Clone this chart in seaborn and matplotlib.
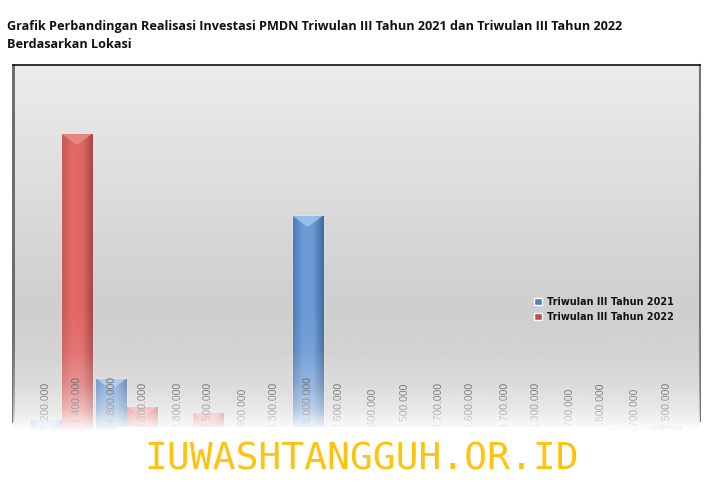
import numpy as np
import pandas as pd
import matplotlib
matplotlib.use("Agg")
import matplotlib.pyplot as plt
import seaborn as sns
from matplotlib.colors import LinearSegmentedColormap
from matplotlib.patches import Polygon, Rectangle

# nilai, nama lokasi tertutup watermark
lokasi = ["Lokasi 1", "Lokasi 2", "Lokasi 3", "Lokasi 4", "Lokasi 5",
          "Lokasi 6", "Lokasi 7", "Lokasi 8", "Lokasi 9", "Lokasi 10"]
triwulan_2021 = [37200000, 164800000, 12800000, 6900000, 668000000,
                 5600000, 10700000, 13700000, 3700000, 4700000]
triwulan_2022 = [921400000, 78300000, 58500000, 14300000, 12600000,
                 11500000, 12600000, 16300000, 11600000, 17500000]
nama_seri = ["Triwulan III Tahun 2021", "Triwulan III Tahun 2022"]
judul = ("Grafik Perbandingan Realisasi Investasi PMDN Triwulan III Tahun 2021 "
         "dan Triwulan III Tahun 2022\nBerdasarkan Lokasi")
watermark = "IUWASHTANGGUH.OR.ID"

df = pd.DataFrame({
    "lokasi": lokasi * 2,
    "nilai": triwulan_2021 + triwulan_2022,
    "periode": [nama_seri[0]] * 10 + [nama_seri[1]] * 10,
})

W, H = 726, 504
sns.set_theme(style="white")
fig = plt.figure(figsize=(W / 100, H / 100), dpi=100, facecolor="white")
# posisi axes dalam piksel gambar
top_px, bottom_px, left_px, right_px = 65, 432, 13, 700
ax = fig.add_axes([left_px / W, 1 - bottom_px / H, (right_px - left_px) / W, (bottom_px - top_px) / H])

warna = {nama_seri[0]: "#4f81bd", nama_seri[1]: "#c0504d"}
sns.barplot(data=df, x="lokasi", y="nilai", hue="periode", hue_order=nama_seri,
            palette=warna, width=0.95, gap=0.03, saturation=1, ax=ax, zorder=2)

xlim = (-0.74, 9.76)
ymax = 921400000 * (bottom_px - top_px) / 298
ax.set_xlim(xlim)
ax.set_ylim(0, ymax)

# latar abu-abu bergradasi
latar = LinearSegmentedColormap.from_list("latar", [(0, "#ececec"), (0.64, "#cfcfcf"), (1, "#cfcfcf")])
ax.imshow(np.linspace(0, 1, 256).reshape(-1, 1), cmap=latar, aspect="auto", extent=(0, 1, 0, 1),
          transform=ax.transAxes, origin="upper", zorder=0)

# gradasi dan bevel tiap batang
gradasi = {
    0: LinearSegmentedColormap.from_list("biru", ["#4a7db8", "#6c9bd6", "#6b9ad4", "#3e6a9f"]),
    1: LinearSegmentedColormap.from_list("merah", ["#c85a58", "#e36a66", "#df6763", "#a94644"]),
}
bevel = {0: "#a9c9f0", 1: "#ee8f8a"}
dy = 11 / (bottom_px - top_px) * ymax
for i, (container, nilai) in enumerate(zip(ax.containers, [triwulan_2021, triwulan_2022])):
    for patch, v in zip(container.patches, nilai):
        x0, w = patch.get_x(), patch.get_width()
        im = ax.imshow(np.linspace(0, 1, 64).reshape(1, -1), cmap=gradasi[i], aspect="auto",
                       extent=(x0, x0 + w, 0, v), zorder=3)
        im.set_clip_path(patch)
        tip = Polygon([(x0, v), (x0 + w, v), (x0 + w * 0.5, v - dy)], closed=True,
                      facecolor=bevel[i], alpha=0.75, edgecolor="none", zorder=3.5)
        ax.add_patch(tip)
        tip.set_clip_path(patch)
        teks = f"{v:,}".replace(",", ".")
        ax.annotate(teks, xy=(x0 + w / 2, 0), xytext=(0, -2), textcoords="offset pixels",
                    rotation=90, ha="center", va="bottom", fontsize=7.6, color="#3c3c3c",
                    family="Liberation Sans", annotation_clip=False, clip_on=True, zorder=4)

ax.set_xlim(xlim)
ax.set_ylim(0, ymax)
ax.set_xlabel("")
ax.set_ylabel("")
ax.set_xticks([])
ax.set_yticks([])

# memudar ke putih di bagian bawah
tinggi = bottom_px - top_px
pudar = np.ones((256, 1, 4))
pos_px = np.linspace(top_px, bottom_px, 256)
pudar[:, 0, 3] = np.interp(pos_px, [310, 350, 385, 410, 425, 432], [0, 0.08, 0.28, 0.55, 0.85, 1])
ax.imshow(pudar, aspect="auto", extent=(0, 1, 0, 1), transform=ax.transAxes, origin="upper", zorder=5)
ax.set_xlim(xlim)
ax.set_ylim(0, ymax)

ax.spines["bottom"].set_visible(False)
ax.spines["top"].set_color("#111111")
ax.spines["top"].set_linewidth(1.2)
ax.spines["left"].set_color("#666666")
ax.spines["left"].set_linewidth(2)
ax.spines["right"].set_color("#777777")
ax.spines["right"].set_linewidth(1.5)
for side in ["left", "right"]:
    ax.spines[side].set_bounds(ymax * 0.03, ymax)

leg = ax.legend(loc="upper left", bbox_to_anchor=((534 - left_px) / (right_px - left_px), 1 - (297 - top_px) / tinggi),
                frameon=False, fontsize=6.9, handlelength=0.8, handleheight=0.8, handletextpad=0.55,
                labelspacing=0.5, borderpad=0, borderaxespad=0)
for teks in leg.get_texts():
    teks.set_fontweight("bold")
    teks.set_color("#111111")
leg.set_zorder(6)

# pita putih watermark
fig.add_artist(Rectangle((118 / W, 0), (608 - 118) / W, 1 - 427 / H, transform=fig.transFigure,
                         facecolor="white", edgecolor="none", zorder=10))
fig.text(362 / W, 1 - 460 / H, watermark, ha="center", va="center", color="#ffc20e",
         fontsize=27.4, family="DejaVu Sans Mono", zorder=11)

fig.text(7 / W, 1 - 20 / H, judul, ha="left", va="top", fontsize=9.1, fontweight="bold",
         family="Open Sans", color="#111111", linespacing=1.5)

fig.savefig("out.png", dpi=100)
